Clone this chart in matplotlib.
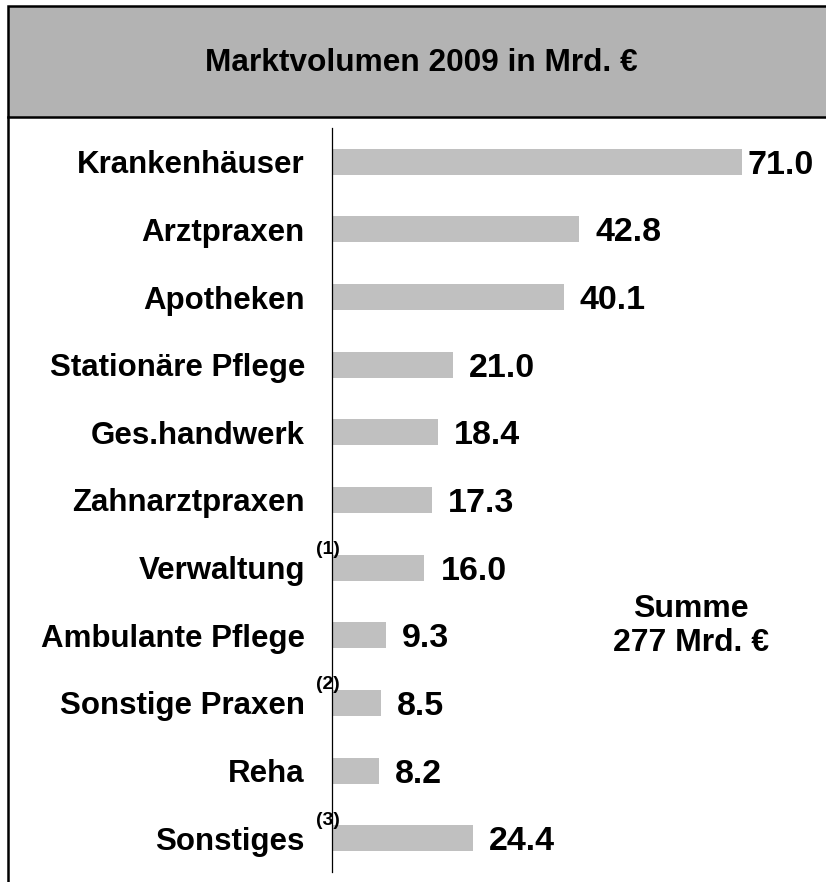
import numpy as np
import matplotlib
matplotlib.use("Agg")
import matplotlib.pyplot as plt
from matplotlib.patches import Rectangle
from matplotlib.lines import Line2D

plt.rcParams['font.family'] = ['Liberation Sans', 'DejaVu Sans']
plt.rcParams['font.weight'] = 'bold'

categories = ["Krankenhäuser", "Arztpraxen", "Apotheken", "Stationäre Pflege",
              "Ges.handwerk", "Zahnarztpraxen", "Verwaltung", "Ambulante Pflege",
              "Sonstige Praxen", "Reha", "Sonstiges"]
values = [71.0, 42.8, 40.1, 21.0, 18.4, 17.3, 16.0, 9.3, 8.5, 8.2, 24.4]
notes = ["", "", "", "", "", "", "(1)", "", "(2)", "", "(3)"]
title = "Marktvolumen 2009 in Mrd. €"
total_text = "Summe\n277 Mrd. €"

W, H = 826, 882
fig = plt.figure(figsize=(W / 100, H / 100), dpi=100)

def fx(px):
    return px / W

def fy(py):
    return 1 - py / H

# title box and left frame line
fig.add_artist(Rectangle((fx(8), fy(117)), fx(830) - fx(8), fy(6) - fy(117),
                         transform=fig.transFigure, facecolor='#b3b3b3',
                         edgecolor='black', linewidth=1.8))
fig.add_artist(Line2D([fx(8), fx(8)], [fy(117), fy(884)], transform=fig.transFigure,
                      color='black', linewidth=1.8))
fig.text(fx(421), fy(63), title, ha='center', va='center', fontsize=22.8,
         fontweight='bold')

ax = fig.add_axes([fx(332), fy(872), fx(826) - fx(332), fy(128) - fy(872)])
y = np.arange(len(categories))
ax.barh(y, values, height=0.385, color='#c0c0c0')
ax.set_ylim(len(categories) - 0.5, -0.5)
ax.set_xlim(0, 494 / 5.775)

ax.set_yticks(y, categories, fontsize=22.5, fontweight='bold')
ax.tick_params(axis='y', length=0, pad=19.5)
ax.set_xticks([])
for s in ['top', 'right', 'bottom']:
    ax.spines[s].set_visible(False)
ax.spines['left'].set_linewidth(0.9)

for i, v in enumerate(values):
    off = 5 if v == max(values) else 16
    ax.annotate(f"{v:.1f}", xy=(v, i), xytext=(off, -12), textcoords='offset pixels',
                ha='left', va='baseline', fontsize=24.5, fontweight='bold')
    if notes[i]:
        ax.annotate(notes[i], xy=(0, i), xytext=(-4, 18), textcoords='offset pixels',
                    ha='center', va='center', fontsize=14, fontweight='bold',
                    annotation_clip=False)

fig.text(fx(691), fy(626), total_text, ha='center', va='center', fontsize=23,
         fontweight='bold', linespacing=1.15)

fig.savefig("out.png", dpi=100)
